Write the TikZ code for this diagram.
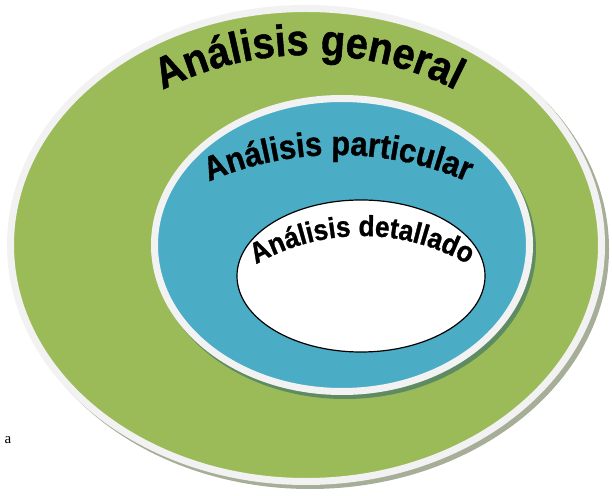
\documentclass[tikz,border=0pt]{standalone}
\usepackage{fontspec}
\setmainfont{Liberation Serif}
\newfontfamily\ringfont[FakeStretch=0.9, FakeBold=1]{Liberation Sans}
\usetikzlibrary{decorations.text}
\definecolor{ringgreen}{HTML}{9BBB59}
\definecolor{ringblue}{HTML}{4BACC6}
\definecolor{ringedge}{HTML}{F2F2F2}
\definecolor{shadowgray}{HTML}{A6AE98}
\definecolor{shadowgreen}{HTML}{5E8B62}

\begin{document}
\begin{tikzpicture}[x=1pt,y=1pt,
		ring/.style={draw=ringedge, line width=7pt},
		ringtext/.style={decorate, decoration={text along path, text align=center, text={#1}}}]
	\useasboundingbox (0,0) rectangle (612,495);
	\coordinate (big) at (306,250);
	\coordinate (mid) at (342,250);
	\coordinate (core) at (361,219);
	
	% general
	\fill[shadowgray] ([shift={(4,-4)}]big) ellipse [x radius=299, y radius=240];
	\draw[ring, fill=ringgreen] (big) ellipse [x radius=295.5, y radius=236.5];
	% particular
	\fill[shadowgreen] ([shift={(3,-4)}]mid) ellipse [x radius=191, y radius=150];
	\draw[ring, fill=ringblue] (mid) ellipse [x radius=187.5, y radius=146.5];
	% detallado
	\draw[black, line width=1.2pt, fill=white] (core) ellipse [x radius=124, y radius=76];
	
	\coordinate (tg) at (309,118);
	\coordinate (tp) at (338,15);
	\coordinate (td) at (362,47);
	\path[ringtext={|\ringfont\bfseries\fontsize{44}{44}\selectfont|Análisis general}]
		(tg) ++(135:322) arc[start angle=135, end angle=45, radius=322];
	\path[ringtext={|\ringfont\bfseries\fontsize{34}{34}\selectfont|Análisis particular}]
		(tp) ++(135:325) arc[start angle=135, end angle=45, radius=325];
	\path[ringtext={|\ringfont\bfseries\fontsize{29}{29}\selectfont|Análisis detallado}]
		(td) ++(145:212) arc[start angle=145, end angle=35, radius=212];
	
	\node[font=\fontsize{15}{15}\selectfont] (stray) at (8,55) {a};
\end{tikzpicture}
\end{document}
